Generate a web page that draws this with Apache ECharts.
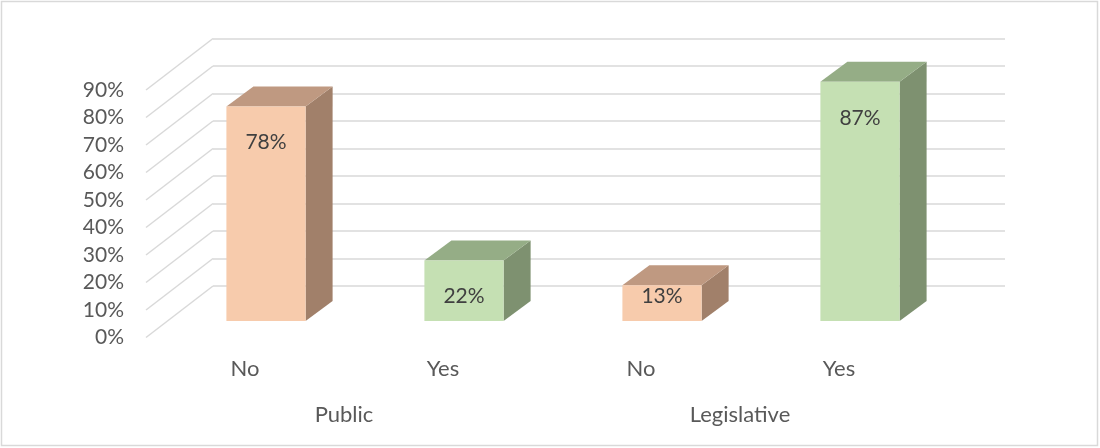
<!DOCTYPE html>
<html>
<head>
<meta charset="utf-8">
<script src="https://cdn.jsdelivr.net/npm/echarts@6/dist/echarts.min.js"></script>
<style>
  html, body { margin: 0; padding: 0; background: #ffffff; }
  #chart { width: 1100px; height: 448px; }
</style>
</head>
<body>
<div id="chart"></div>
<script>
// ---- data ----
var categories = ['No', 'Yes', 'No', 'Yes'];
var groups = ['Public', 'Legislative'];
var values = [78, 22, 13, 87];
var yTicks = [0, 10, 20, 30, 40, 50, 60, 70, 80, 90];

// ---- styles / layout constants ----
var palette = {
  'No':  { front: '#F7CBAC', top: '#BF9981', side: '#A1806A' },
  'Yes': { front: '#C5E0B3', top: '#95AD86', side: '#7E9170' }
};
var FLOOR_DX = -67, FLOOR_DY = 51.5;   // back wall -> front edge
var BAR_FX = -46, BAR_FY = 35;         // back wall -> bar front face
var BAR_DX = 27, BAR_DY = -20;         // bar depth
var FONT = 'Lato, "Open Sans", sans-serif';

var chart = echarts.init(document.getElementById('chart'), null, { renderer: 'canvas' });

var yMin = yTicks[0], yMax = yTicks[yTicks.length - 1], yInt = yTicks[1] - yTicks[0];

var option = {
  animation: false,
  backgroundColor: '#ffffff',
  graphic: [{
    type: 'rect',
    shape: { x: 1.5, y: 1.5, width: 1096, height: 444 },
    style: { fill: 'none', stroke: '#D9D9D9', lineWidth: 1.5 },
    z: -1
  }],
  grid: [
    { left: 213, top: 38.5, width: 792, height: 247.5 },
    { left: 146, top: 90, width: 792, height: 247.5 }
  ],
  xAxis: [
    { gridIndex: 0, type: 'category', data: categories,
      axisLine: { show: false }, axisTick: { show: false }, axisLabel: { show: false } },
    { gridIndex: 1, type: 'category', data: categories,
      axisLine: { show: false }, axisTick: { show: false },
      axisLabel: { margin: 20, fontFamily: FONT, fontSize: 22, color: '#595959' } },
    { gridIndex: 1, type: 'category', data: groups, position: 'bottom',
      axisLine: { show: false }, axisTick: { show: false },
      axisLabel: { margin: 66, fontFamily: FONT, fontSize: 22, color: '#595959' } }
  ],
  yAxis: [
    { gridIndex: 0, type: 'value', min: yMin, max: yMax, interval: yInt,
      axisLine: { show: false }, axisTick: { show: false }, axisLabel: { show: false },
      splitLine: { show: true, lineStyle: { color: '#D9D9D9', width: 1.5 } } },
    { gridIndex: 1, type: 'value', min: yMin, max: yMax, interval: yInt,
      axisLine: { show: false }, axisTick: { show: false }, splitLine: { show: false },
      axisLabel: { margin: 22, fontFamily: FONT, fontSize: 21, color: '#595959',
        formatter: '{value}%' } }
  ],
  series: [
    {
      // side-wall diagonals from back wall gridlines to the front edge
      type: 'custom',
      xAxisIndex: 0, yAxisIndex: 0,
      clip: false,
      silent: true,
      z: 1,
      data: yTicks.map(function (t) { return [0, t]; }),
      renderItem: function (params, api) {
        var x = params.coordSys.x;
        var y = api.coord([0, api.value(1)])[1];
        return {
          type: 'line',
          shape: { x1: x, y1: y, x2: x + FLOOR_DX, y2: y + FLOOR_DY },
          style: { stroke: '#D9D9D9', lineWidth: 1.5 }
        };
      }
    },
    {
      type: 'custom',
      xAxisIndex: 0, yAxisIndex: 0,
      clip: false,
      z: 5,
      data: values.map(function (v, i) { return [i, v]; }),
      renderItem: function (params, api) {
        var idx = api.value(0);
        var v = api.value(1);
        var p = api.coord([idx, v]);
        var p0 = api.coord([idx, 0]);
        var band = api.size([1, 0])[0];
        var w = band * 0.4;
        var cx = p[0] + BAR_FX;
        var xl = cx - w / 2, xr = cx + w / 2;
        var top = p[1] + BAR_FY, bottom = p0[1] + BAR_FY;
        var h = bottom - top;
        var col = palette[categories[idx]];
        var labelOff = h < 50 ? h * 0.3 : 36;
        return {
          type: 'group',
          children: [
            { type: 'polygon',
              shape: { points: [[xr, top], [xr + BAR_DX, top + BAR_DY], [xr + BAR_DX, bottom + BAR_DY], [xr, bottom]] },
              style: { fill: col.side } },
            { type: 'polygon',
              shape: { points: [[xl, top], [xr, top], [xr + BAR_DX, top + BAR_DY], [xl + BAR_DX, top + BAR_DY]] },
              style: { fill: col.top } },
            { type: 'rect',
              shape: { x: xl, y: top, width: w, height: h },
              style: { fill: col.front } },
            { type: 'text',
              style: { text: v + '%', x: cx, y: top + labelOff, align: 'center', verticalAlign: 'middle',
                fontFamily: FONT, fontSize: 21, fill: '#404040' },
              z2: 10 }
          ]
        };
      }
    }
  ]
};

chart.setOption(option);
</script>
</body>
</html>
